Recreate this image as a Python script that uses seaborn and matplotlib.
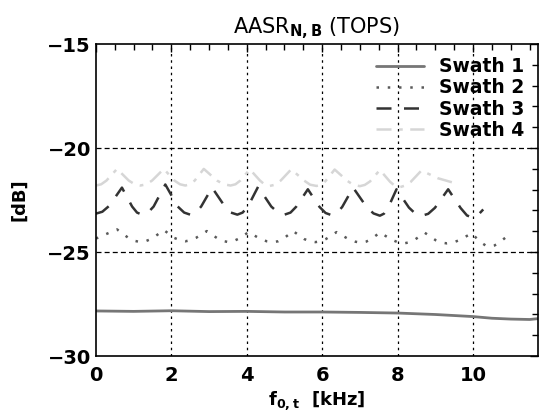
import matplotlib
matplotlib.use("Agg")
import matplotlib.pyplot as plt
import seaborn as sns
import pandas as pd
from matplotlib.ticker import MultipleLocator

# ---------------- data ----------------
swath1_x = [0.0, 1.0, 2.0, 3.0, 4.0, 5.0, 6.0, 7.0, 8.0, 9.0, 10.0, 10.5, 11.0, 11.5, 11.72]
swath1_y = [-27.83, -27.85, -27.82, -27.86, -27.85, -27.88, -27.88, -27.90, -27.93,
            -28.00, -28.10, -28.18, -28.22, -28.24, -28.20]

swath2_x = [0.00, 0.25, 0.56, 0.87, 1.03, 1.18, 1.34, 1.49, 1.80, 2.08, 2.23, 2.37, 2.51,
            2.65, 2.94, 3.23, 3.38, 3.52, 3.65, 3.78, 4.05, 4.37, 4.53, 4.70, 4.83, 4.96,
            5.23, 5.52, 5.67, 5.82, 5.96, 6.10, 6.38, 6.71, 6.88, 7.04, 7.16, 7.28, 7.53,
            7.85, 8.01, 8.17, 8.31, 8.45, 8.72, 9.01, 9.16, 9.30, 9.47, 9.63, 9.96, 10.20,
            10.33, 10.45, 10.57, 10.69, 10.93]
swath2_y = [-24.35, -24.15, -23.91, -24.33, -24.46, -24.52, -24.46, -24.35, -23.94, -24.32,
            -24.43, -24.48, -24.43, -24.32, -23.99, -24.35, -24.47, -24.52, -24.47, -24.36,
            -24.04, -24.38, -24.48, -24.52, -24.48, -24.37, -23.99, -24.37, -24.48, -24.52,
            -24.48, -24.37, -24.04, -24.39, -24.50, -24.55, -24.50, -24.40, -24.06, -24.41,
            -24.53, -24.58, -24.53, -24.41, -24.07, -24.43, -24.54, -24.58, -24.54, -24.43,
            -24.10, -24.52, -24.68, -24.73, -24.68, -24.55, -24.20]

swath3_x = [0.00, 0.17, 0.35, 0.69, 0.96, 1.09, 1.22, 1.38, 1.53, 1.84, 2.17, 2.34, 2.50,
            2.65, 2.79, 3.08, 3.42, 3.58, 3.75, 3.89, 4.03, 4.30, 4.65, 4.83, 5.00, 5.16,
            5.31, 5.62, 5.93, 6.09, 6.24, 6.39, 6.53, 6.82, 7.18, 7.36, 7.53, 7.64, 7.75,
            7.97, 8.30, 8.47, 8.63, 8.81, 8.99, 9.34, 9.67, 9.84, 10.00, 10.14, 10.27]
swath3_y = [-23.15, -23.06, -22.78, -21.90, -22.81, -23.10, -23.20, -23.10, -22.81, -21.75,
            -22.81, -23.10, -23.20, -23.10, -22.81, -21.90, -22.81, -23.10, -23.20, -23.10,
            -22.81, -21.86, -22.81, -23.10, -23.20, -23.10, -22.82, -21.98, -22.83, -23.12,
            -23.22, -23.12, -22.83, -21.90, -22.84, -23.14, -23.25, -23.15, -22.86, -21.98,
            -22.86, -23.15, -23.26, -23.16, -22.87, -21.98, -22.88, -23.24, -23.35, -23.20,
            -22.95]

swath4_x = [0.00, 0.14, 0.28, 0.56, 0.87, 1.03, 1.18, 1.34, 1.49, 1.80, 2.08, 2.23, 2.37,
            2.49, 2.62, 2.86, 3.21, 3.39, 3.57, 3.70, 3.83, 4.08, 4.35, 4.48, 4.61, 4.75,
            4.90, 5.18, 5.52, 5.68, 5.85, 5.97, 6.09, 6.33, 6.67, 6.83, 7.00, 7.13, 7.27,
            7.53, 7.80, 7.93, 8.06, 8.20, 8.35, 8.63, 9.07, 9.51]
swath4_y = [-21.80, -21.74, -21.56, -21.00, -21.56, -21.74, -21.80, -21.74, -21.56, -21.00,
            -21.56, -21.74, -21.80, -21.74, -21.56, -21.00, -21.56, -21.74, -21.80, -21.74,
            -21.56, -21.02, -21.56, -21.76, -21.82, -21.76, -21.56, -21.02, -21.56, -21.76,
            -21.82, -21.76, -21.58, -21.03, -21.58, -21.77, -21.83, -21.77, -21.60, -21.05,
            -21.62, -21.82, -21.88, -21.80, -21.62, -21.08, -21.45, -21.68]

labels = ["Swath 1", "Swath 2", "Swath 3", "Swath 4"]
x_ticks = [0, 2, 4, 6, 8, 10]
y_ticks = [-30, -25, -20, -15]

# ---------------- style ----------------
sns.set_style("white")
plt.rcParams["font.family"] = ["DejaVu Sans"]
plt.rcParams["mathtext.default"] = "regular"
plt.rcParams["text.color"] = "black"
plt.rcParams["axes.labelcolor"] = "black"
plt.rcParams["xtick.color"] = "black"
plt.rcParams["ytick.color"] = "black"

fig = plt.figure(figsize=(5.45, 4.16), dpi=100)
ax = fig.add_axes([0.176, 0.144, 0.811, 0.750])

series = [
    (swath1_x, swath1_y, "#767676", "-", 2.0),
    (swath2_x, swath2_y, "#5a5a5a", (0, (1, 3.5)), 1.8),
    (swath3_x, swath3_y, "#333333", (0, (6, 5)), 1.8),
    (swath4_x, swath4_y, "#d6d6d6", (0, (6, 3, 1.5, 3)), 1.8),
]
for (xs, ys, col, ls, lw), lab in zip(series, labels):
    df = pd.DataFrame({"x": xs, "y": ys})
    sns.lineplot(data=df, x="x", y="y", ax=ax, color=col, linestyle=ls,
                 linewidth=lw, label=lab, sort=False, estimator=None)

ax.set_xlim(0, 11.72)
ax.set_ylim(-30, -15)
ax.set_xticks(x_ticks)
ax.set_yticks(y_ticks)
ax.xaxis.set_minor_locator(MultipleLocator(0.5))
ax.yaxis.set_minor_locator(MultipleLocator(1))
ax.tick_params(which="both", direction="in", top=True, right=True,
               labelsize=14, width=1, color="black")
ax.tick_params(which="major", length=6)
ax.tick_params(which="minor", length=4)
ax.tick_params(axis="x", which="major", pad=7)
for lbl in ax.get_xticklabels() + ax.get_yticklabels():
    lbl.set_fontweight("bold")

for s in ax.spines.values():
    s.set_color("black")
    s.set_linewidth(1.2)

for xv in [2, 4, 6, 8, 10]:
    ax.axvline(xv, color="black", lw=0.9, ls=(0, (2, 3)), zorder=0)
for yv in [-20, -25]:
    ax.axhline(yv, color="black", lw=0.9, ls=(0, (4, 2.5)), zorder=0)

ax.set_title(r"AASR$_{\mathbf{N,B}}$ (TOPS)", fontsize=15, fontweight="normal", pad=8)
ax.set_xlabel(r"f$_{\mathbf{0,t}}$  [kHz]", fontsize=13, fontweight="bold", labelpad=3)
ax.set_ylabel("[dB]", fontsize=13, fontweight="bold", labelpad=14)

leg = ax.legend(loc="upper right", frameon=False, fontsize=13.5, handlelength=2.6,
                labelspacing=0.12, borderaxespad=0.3, handletextpad=0.8)
for t in leg.get_texts():
    t.set_fontweight("bold")
    t.set_color("black")

fig.savefig("out.png", dpi=100)
